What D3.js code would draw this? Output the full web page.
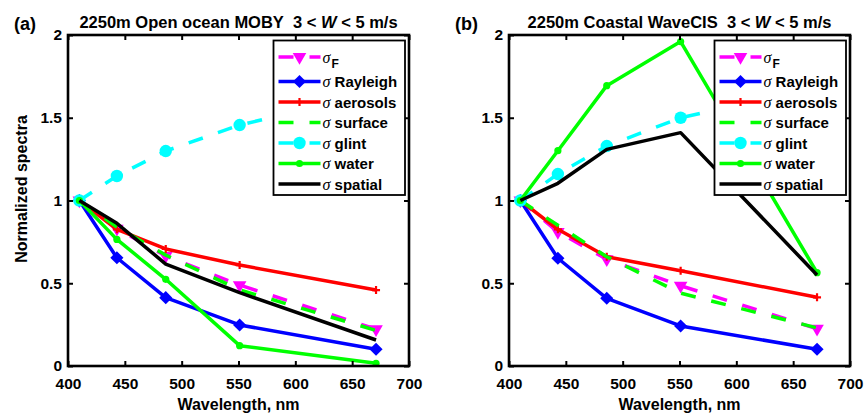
<!DOCTYPE html>
<html>
<head>
<meta charset="utf-8">
<script src="https://cdn.jsdelivr.net/npm/d3@7"></script>
<style>
  html, body { margin: 0; padding: 0; background: #fff; }
  svg { display: block; }
  text { font-family: "Liberation Sans", Arial, Helvetica, sans-serif; font-weight: bold; fill: #000; white-space: pre; }
</style>
</head>
<body>
<svg id="chart" width="866" height="416"></svg>
<script>
// VIIRS band centres (nm)
const wavelengths = [410, 443, 486, 551, 671];

// Axis ticks
const xTicks = [400, 450, 500, 550, 600, 650, 700];
const xTickLabels = ["400", "450", "500", "550", "600", "650", "700"];
const yTicks = [0, 0.5, 1, 1.5, 2];
const yTickLabels = ["0", "0.5", "1", "1.5", "2"];

// Panel (a): open ocean, MOBY
const sigmaF_a   = [1, 0.83, 0.665, 0.489, 0.223];
const rayleigh_a = [1, 0.654, 0.413, 0.248, 0.101];
const aerosols_a = [1, 0.826, 0.707, 0.61, 0.459];
const surface_a  = [1, 0.84, 0.67, 0.46, 0.215];
const glint_a    = [1, 1.148, 1.299, 1.456, 1.65];
const water_a    = [1, 0.765, 0.524, 0.123, 0.016];
const spatial_a  = [1, 0.862, 0.616, 0.443, 0.157];

// Panel (b): coastal, WaveCIS
const sigmaF_b   = [1, 0.81, 0.645, 0.485, 0.225];
const rayleigh_b = [1, 0.651, 0.409, 0.242, 0.101];
const aerosols_b = [1, 0.826, 0.66, 0.576, 0.415];
const surface_b  = [1, 0.85, 0.66, 0.44, 0.23];
const glint_b    = [1, 1.16, 1.329, 1.50, 1.68];
const water_b    = [1, 1.301, 1.694, 1.96, 0.564];
const spatial_b  = [1, 1.104, 1.309, 1.41, 0.55];

// Series names, in legend / drawing order
const seriesKeys  = ["sigmaF", "rayleigh", "aerosols", "surface", "glint", "water", "spatial"];
const seriesNames = ["F", "Rayleigh", "aerosols", "surface", "glint", "water", "spatial"];

const panelTitles = ["2250m Open ocean MOBY", "2250m Coastal WaveCIS"];
const panelLetters = ["(a)", "(b)"];

// Per-series styling
const styles = {
  sigmaF:   { color: "#ff00ff", dash: "15,16", marker: "triangleDown" },
  rayleigh: { color: "#0000ff", dash: null,    marker: "diamond" },
  aerosols: { color: "#ff0000", dash: null,    marker: "plus" },
  surface:  { color: "#00ff00", dash: "15,16", marker: null },
  glint:    { color: "#00ffff", dash: "15,16", marker: "circle" },
  water:    { color: "#00ff00", dash: null,    marker: "dot" },
  spatial:  { color: "#000000", dash: null,    marker: null }
};

const panels = [
  { letter: panelLetters[0], title: panelTitles[0], x0: 68, x1: 409, showYLabel: true,
    data: { sigmaF: sigmaF_a, rayleigh: rayleigh_a, aerosols: aerosols_a, surface: surface_a,
            glint: glint_a, water: water_a, spatial: spatial_a } },
  { letter: panelLetters[1], title: panelTitles[1], x0: 509, x1: 850, showYLabel: false,
    data: { sigmaF: sigmaF_b, rayleigh: rayleigh_b, aerosols: aerosols_b, surface: surface_b,
            glint: glint_b, water: water_b, spatial: spatial_b } }
];

const yTop = 35, yBottom = 366;
const svg = d3.select("#chart");

function drawMarker(g, type, color, cx, cy) {
  if (!type) return;
  if (type === "triangleDown") {
    g.append("path")
      .attr("d", d3.symbol().type(d3.symbolTriangle).size(80)())
      .attr("transform", `translate(${cx},${cy}) rotate(180)`)
      .attr("fill", color);
  } else if (type === "diamond") {
    g.append("path")
      .attr("d", d3.symbol().type(d3.symbolSquare).size(86)())
      .attr("transform", `translate(${cx},${cy}) rotate(45)`)
      .attr("fill", color);
  } else if (type === "plus") {
    g.append("path")
      .attr("d", "M-4,0H4M0,-4V4")
      .attr("transform", `translate(${cx},${cy})`)
      .attr("stroke", color).attr("stroke-width", 2.2).attr("fill", "none");
  } else if (type === "circle") {
    g.append("circle").attr("cx", cx).attr("cy", cy).attr("r", 6.2).attr("fill", color);
  } else if (type === "dot") {
    g.append("circle").attr("cx", cx).attr("cy", cy).attr("r", 3.6).attr("fill", color);
  }
}

panels.forEach(p => {
  const x = d3.scaleLinear().domain([400, 700]).range([p.x0, p.x1]);
  const y = d3.scaleLinear().domain([0, 2]).range([yBottom, yTop]);
  const g = svg.append("g");

  // Data lines and markers
  const line = d3.line().x(d => x(d.w)).y(d => y(d.v));
  seriesKeys.forEach(key => {
    const st = styles[key];
    const pts = wavelengths.map((w, i) => ({ w, v: p.data[key][i] }));
    const sg = g.append("g");
    sg.append("path")
      .datum(pts)
      .attr("d", line)
      .attr("fill", "none")
      .attr("stroke", st.color)
      .attr("stroke-width", 3.5)
      .attr("stroke-linejoin", "round")
      .attr("stroke-dasharray", st.dash);
    pts.forEach(d => drawMarker(sg, st.marker, st.color, x(d.w), y(d.v)));
  });

  // Axes with inward ticks
  const ax = g.append("g").attr("class", "axes");
  const bottom = ax.append("g").attr("transform", `translate(0,${yBottom})`)
    .call(d3.axisBottom(x).tickValues(xTicks).tickFormat((d, i) => xTickLabels[i])
      .tickSize(-5).tickPadding(12));
  const top = ax.append("g").attr("transform", `translate(0,${yTop})`)
    .call(d3.axisTop(x).tickValues(xTicks).tickFormat("").tickSize(-5));
  const left = ax.append("g").attr("transform", `translate(${p.x0},0)`)
    .call(d3.axisLeft(y).tickValues(yTicks).tickFormat((d, i) => yTickLabels[i])
      .tickSize(-5).tickPadding(6));
  const right = ax.append("g").attr("transform", `translate(${p.x1},0)`)
    .call(d3.axisRight(y).tickValues(yTicks).tickFormat("").tickSize(-5));
  [bottom, top, left, right].forEach(a => {
    a.select(".domain").remove();
    a.selectAll(".tick line").attr("stroke", "#000").attr("stroke-width", 2);
    a.selectAll(".tick text")
      .attr("font-family", "'Liberation Sans', Arial, sans-serif")
      .attr("font-weight", "bold").attr("font-size", 15.5).attr("fill", "#000");
  });
  ax.append("rect")
    .attr("x", p.x0).attr("y", yTop)
    .attr("width", p.x1 - p.x0).attr("height", yBottom - yTop)
    .attr("fill", "none").attr("stroke", "#000").attr("stroke-width", 2.6);

  // Legend
  const lx = p.x1 - 135.5, ly = yTop + 5.5, lw = 131.5, lh = 154.5;
  const lg = g.append("g");
  lg.append("rect").attr("x", lx).attr("y", ly).attr("width", lw).attr("height", lh)
    .attr("fill", "#fff").attr("stroke", "#000").attr("stroke-width", 1.8);
  seriesKeys.forEach((key, i) => {
    const st = styles[key];
    const ry = i === 0 ? ly + 16.5 : ly + 41 + (i - 1) * 20.5;
    const sx0 = lx + 5, sx1 = lx + 47;
    lg.append("line").attr("x1", sx0).attr("x2", sx1).attr("y1", ry).attr("y2", ry)
      .attr("stroke", st.color).attr("stroke-width", 3.5)
      .attr("stroke-dasharray", st.dash);
    drawMarker(lg, st.marker, st.color, (sx0 + sx1) / 2, ry);
    const t = lg.append("text").attr("x", lx + 49).attr("y", ry + 5.5)
      .attr("font-size", 15);
    t.append("tspan").text("σ")
      .attr("font-family", "'Liberation Serif', 'Times New Roman', serif")
      .attr("font-style", "italic").attr("font-weight", "normal").attr("font-size", 16);
    if (key === "sigmaF") {
      t.append("tspan").text(seriesNames[i]).attr("dy", 5).attr("dx", 1).attr("font-size", 12);
    } else {
      t.append("tspan").text(" " + seriesNames[i]);
    }
  });

  // Titles and labels
  const cx = (p.x0 + p.x1) / 2;
  const title = g.append("text").attr("x", cx).attr("y", 27.5)
    .attr("text-anchor", "middle").attr("font-size", 16.5);
  title.append("tspan").text(p.title + "\u00a0\u00a03 < ");
  title.append("tspan").text("W").attr("font-style", "italic");
  title.append("tspan").text(" < 5 m/s");

  g.append("text").attr("x", p.x0 - 54).attr("y", 30)
    .attr("font-size", 18).text(p.letter);

  g.append("text").attr("x", cx).attr("y", 410)
    .attr("text-anchor", "middle").attr("font-size", 16).text("Wavelength, nm");

  if (p.showYLabel) {
    g.append("text").attr("transform", `translate(26.5,189) rotate(-90)`)
      .attr("text-anchor", "middle").attr("font-size", 16).text("Normalized spectra");
  }
});
</script>
</body>
</html>
